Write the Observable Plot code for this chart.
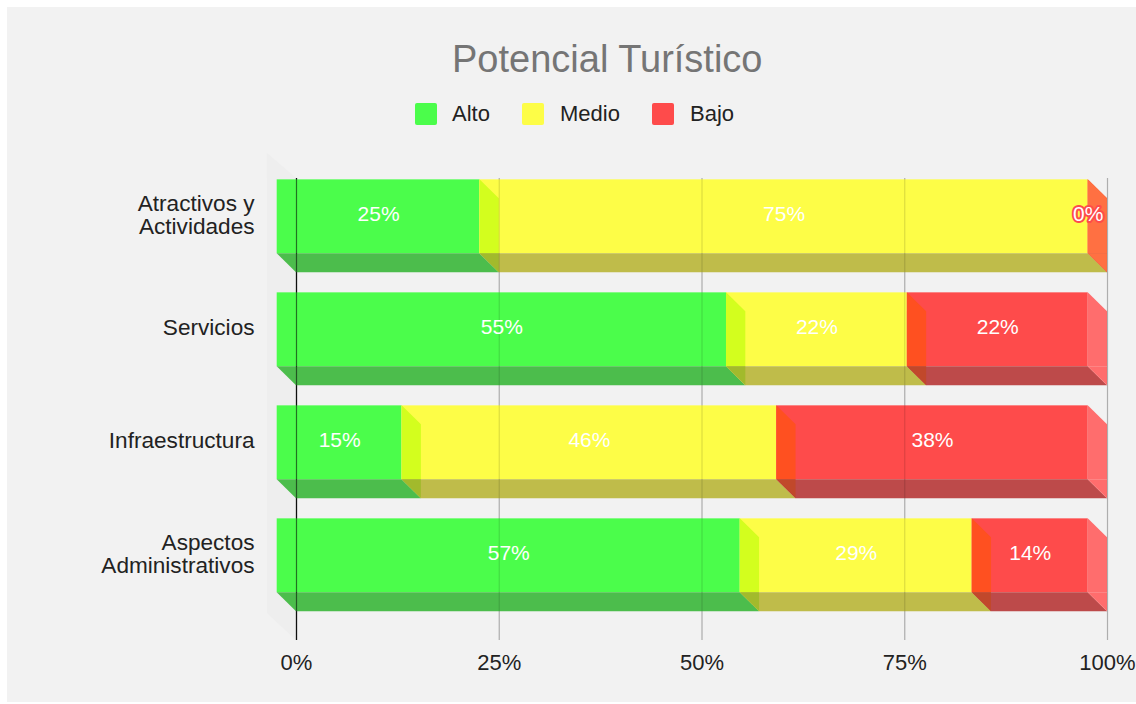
<!DOCTYPE html>
<html>
<head>
<meta charset="utf-8">
<script src="https://cdn.jsdelivr.net/npm/d3@7"></script>
<script src="https://cdn.jsdelivr.net/npm/@observablehq/plot@0.6"></script>
<style>
  html, body { margin: 0; padding: 0; background: #ffffff; width: 1136px; height: 704px; overflow: hidden; }
  body { font-family: "Liberation Sans", Arial, sans-serif; position: relative; }
  #bg { position: absolute; left: 7px; top: 7px; width: 1129px; height: 695px; background: #f2f2f2; }
  #title { position: absolute; left: 452px; top: 40px; font-size: 38px; line-height: 38px; color: #757575; white-space: nowrap; }
  .lg-sw { position: absolute; top: 103px; width: 22px; height: 22px; border-radius: 2px; }
  .lg-tx { position: absolute; top: 103px; font-size: 22px; line-height: 22px; color: #222; white-space: nowrap; }
  #chart { position: absolute; left: 0; top: 140px; }
</style>
</head>
<body>
<div id="bg"></div>
<div id="title">Potencial Turístico</div>
<div id="legend"></div>
<div id="chart"></div>
<script>
// ---- data ----
const categories = ["Atractivos y\nActividades", "Servicios", "Infraestructura", "Aspectos\nAdministrativos"];
const series = ["Alto", "Medio", "Bajo"];
const alto  = [25, 55.4, 15.4, 57.1];
const medio = [75, 22.3, 46.2, 28.6];
const bajo  = [0, 22.3, 38.4, 14.3];
const tickValues = [0, 25, 50, 75, 100];
const tickLabels = ["0%", "25%", "50%", "75%", "100%"];

// ---- styles ----
const frontColor  = {Alto: "#4bfd4b", Medio: "#fdfd47", Bajo: "#fe4b4b"};
const bottomColor = {Alto: "#4cbd4c", Medio: "#bfbc4a", Bajo: "#bd4a4a"};
const sideFront   = {Alto: "#d3fe1e", Medio: "#ff5020", Bajo: "#ff6d6d"};
const sideBottom  = {Alto: "#a2ba2c", Medio: "#c1482b", Bajo: "#ff6d6d"};
const zeroSide = "#ff7042";
const legendPos = [{sw: 415, tx: 452}, {sw: 522, tx: 560}, {sw: 652, tx: 690}];

// legend
const lg = document.getElementById("legend");
series.forEach((s, j) => {
  const sw = document.createElement("div");
  sw.className = "lg-sw"; sw.style.left = legendPos[j].sw + "px"; sw.style.background = frontColor[s];
  const tx = document.createElement("div");
  tx.className = "lg-tx"; tx.style.left = legendPos[j].tx + "px"; tx.textContent = s;
  lg.appendChild(sw); lg.appendChild(tx);
});

// 3D depth in data units
const DX = 2.38, DY = 0.168, H = 0.327;
const values = [alto, medio, bajo];

const segs = [];
categories.forEach((c, i) => {
  let s = 0;
  series.forEach((k, j) => {
    const v = values[j][i];
    segs.push({id: i + "-" + k, i, k, j, s, e: s + v, v});
    s += v;
  });
});
const nz = segs.filter(d => d.v > 0);

const bottomPts = nz.flatMap(d => [
  {id: d.id, y: d.i + H, x1: d.s - DX, x2: d.e - DX, fill: bottomColor[d.k]},
  {id: d.id, y: d.i + H + DY, x1: d.s, x2: d.e, fill: bottomColor[d.k]}
]);
const sidePts = segs.flatMap(d => {
  const cf = d.v > 0 ? sideFront[d.k] : zeroSide;
  const cb = d.v > 0 ? sideBottom[d.k] : zeroSide;
  return [
    {id: d.id + "f", x: d.e - DX, y1: d.i - H, y2: d.i + H, fill: cf},
    {id: d.id + "f", x: d.e, y1: d.i - H + DY, y2: d.i + H, fill: cf},
    {id: d.id + "b", x: d.e - DX, y1: d.i + H, y2: d.i + H, fill: cb},
    {id: d.id + "b", x: d.e, y1: d.i + H, y2: d.i + H + DY, fill: cb}
  ];
});
const wall = [
  {x: -3.58, y1: -0.56, y2: 3.511},
  {x: 0, y1: -0.339, y2: 3.75}
];
const GT = -0.339, GB = 3.75;

const chart = Plot.plot({
  width: 1136,
  height: 564,
  style: {background: "transparent", fontFamily: "'Liberation Sans', Arial, sans-serif", overflow: "visible"},
  x: {domain: [0, 100], range: [296, 1107], axis: null},
  y: {domain: [0, 3], range: [76.3, 415.3], axis: null},
  color: {type: "identity"},
  marks: [
    Plot.areaY(wall, {x: "x", y1: "y1", y2: "y2", fill: "#eeeeee", curve: "linear"}),
    Plot.ruleX(tickValues.slice(1), {y1: GT, y2: GB, stroke: "#c8c8c8", strokeWidth: 1.2}),
    Plot.ruleX([0], {y1: GT, y2: GB, stroke: "#222", strokeWidth: 1.2}),
    Plot.rect(nz, {x1: d => d.s - DX, x2: d => d.e - DX, y1: d => d.i - H, y2: d => d.i + H, fill: d => frontColor[d.k], inset: 0}),
    Plot.areaX(bottomPts, {y: "y", x1: "x1", x2: "x2", z: "id", fill: "fill", curve: "linear"}),
    Plot.areaY(sidePts, {x: "x", y1: "y1", y2: "y2", z: "id", fill: "fill", curve: "linear"}),
    Plot.ruleX(tickValues.slice(1), {y1: GT, y2: GB, stroke: "#000", strokeOpacity: 0.13, strokeWidth: 1.2}),
    Plot.ruleX([0], {y1: GT, y2: GB, stroke: "#000", strokeOpacity: 0.55, strokeWidth: 1.2}),
    Plot.text(nz, {x: d => (d.s + d.e) / 2 - DX, y: "i", text: d => Math.round(d.v) + "%", fill: "white", fontSize: 21, dy: -3}),
    Plot.text(segs.filter(d => d.v === 0), {x: d => d.e - DX, y: "i", text: d => Math.round(d.v) + "%", fill: "white", stroke: "#fe4b4b", strokeWidth: 4, fontSize: 21, dy: -3}),
    Plot.text(categories, {x: 0, y: (d, i) => i, dx: -42, dy: -2, text: d => d, textAnchor: "end", fontSize: 22.6, lineHeight: 1.04, fill: "#222"}),
    Plot.text(tickValues, {x: d => d, y: 3.944, text: (d, i) => tickLabels[i], fontSize: 22, fill: "#222"})
  ]
});
document.getElementById("chart").appendChild(chart);
</script>
</body>
</html>
